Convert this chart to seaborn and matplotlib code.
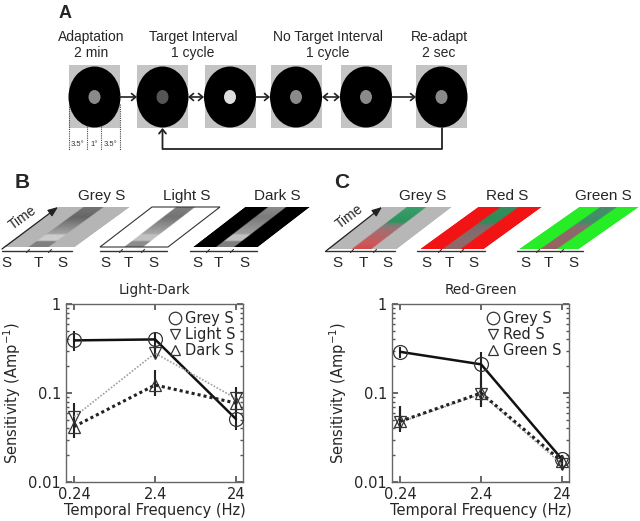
import numpy as np
import pandas as pd
import seaborn as sns
import matplotlib.pyplot as plt
from matplotlib.patches import Rectangle, Ellipse, Polygon
from matplotlib.lines import Line2D
from matplotlib.ticker import NullLocator, LogLocator
from matplotlib.transforms import Affine2D

# data
freqs = [0.24, 2.4, 24]
freq_labels = ['0.24', '2.4', '24']

# Light-Dark
ld_names = ['Grey S', 'Light S', 'Dark S']
ld_mean = [[0.39, 0.40, 0.051], [0.054, 0.28, 0.087], [0.042, 0.123, 0.077]]
ld_lo = [[0.30, 0.30, 0.038], [0.041, 0.25, 0.065], [0.031, 0.092, 0.060]]
ld_hi = [[0.50, 0.48, 0.069], [0.077, 0.32, 0.117], [0.054, 0.18, 0.090]]

# Red-Green
rg_names = ['Grey S', 'Red S', 'Green S']
rg_mean = [[0.29, 0.21, 0.018], [0.047, 0.097, 0.0158], [0.048, 0.100, 0.017]]
rg_lo = [[0.25, 0.15, 0.015], [0.036, 0.069, 0.0137], [0.037, 0.072, 0.0145]]
rg_hi = [[0.33, 0.29, 0.020], [0.070, 0.14, 0.019], [0.072, 0.15, 0.020]]

sns.set_theme(style='ticks')
plt.rcParams['font.family'] = ['DejaVu Sans']
narrow = ['Liberation Sans Narrow', 'Liberation Sans', 'DejaVu Sans']
arial = ['Liberation Sans', 'DejaVu Sans']

fig = plt.figure(figsize=(6.4, 5.21), dpi=100)
bg = fig.add_axes([0, 0, 1, 1])
bg.axis('off')

# ---------- panel A ----------
bg.text(65, 13, 'A', fontsize=13, fontweight='bold', ha='center', va='center', family=arial)
top_labels = [('Adaptation\n2 min', 91), ('Target Interval\n1 cycle', 193),
              ('No Target Interval\n1 cycle', 328), ('Re-adapt\n2 sec', 439)]
for txt, x in top_labels:
    bg.text(x, 45, txt, ha='center', va='center', fontsize=10, family=narrow, linespacing=1.25)

centers = [94.5, 162.5, 230, 296, 366, 441.5]
dots = ['#8a8a8a', '#555555', '#dedede', '#8a8a8a', '#8a8a8a', '#8a8a8a']
for cx, dc in zip(centers, dots):
    bg.add_patch(Rectangle((cx - 25.5, 65), 51, 63, color='#c4c4c4', lw=0))
    bg.add_patch(Ellipse((cx, 97), 52, 61, color='black', lw=0))
    bg.add_patch(Ellipse((cx, 97), 12, 14, color=dc, lw=0))

head = ',head_length=0.3,head_width=0.25'
arrows = [(120, 137, '->'), (188, 204, '<->'), (256, 270, '->'), (322, 340, '<->'), (392, 416, '->')]
for a, b, st in arrows:
    bg.annotate('', xy=(b, 97), xytext=(a, 97),
                arrowprops=dict(arrowstyle=st + head, lw=1.2, color='#222',
                                shrinkA=0, shrinkB=0, mutation_scale=10))
bg.plot([441.5, 441.5, 162.5], [128, 149, 149], color='#222', lw=1.3)
bg.annotate('', xy=(162.5, 128), xytext=(162.5, 149),
            arrowprops=dict(arrowstyle='->' + head, lw=1.3, color='#222',
                            shrinkA=0, shrinkB=0, mutation_scale=10))

for x, y0 in [(69, 104), (87, 126), (101, 126), (120, 104)]:
    bg.plot([x, x], [y0, 150], color='#444', lw=0.8, ls=(0, (1, 1)))
for x, t in [(78, '3.5°'), (94, '1°'), (110.5, '3.5°')]:
    bg.text(x, 144, t, ha='center', va='center', fontsize=5.5, family=arial, color='#333')


# ---------- schematic parallelograms ----------
def stripe_image(bg_rgb, knots_v, knots_rgb, u0=0.35, u1=0.63, nu=90, nv=60):
    u = np.linspace(0, 1, nu)
    v = np.linspace(0, 1, nv)
    img = np.ones((nv, nu, 4))
    img[:, :, :3] = np.array(bg_rgb)
    prof = np.stack([np.interp(v, knots_v, [c[i] for c in knots_rgb]) for i in range(3)], axis=1)
    mask = (u > u0) & (u < u1)
    img[:, mask, :3] = prof[:, None, :]
    return img


def para(x0, yb, w, s, h, img, edge=None):
    poly = Polygon([(x0, yb), (x0 + w, yb), (x0 + w + s, yb - h), (x0 + s, yb - h)], closed=True,
                   fill=False, ec=edge if edge else 'none', lw=0.8, zorder=3)
    bg.add_patch(poly)
    im = bg.imshow(img, origin='lower', extent=(0, 1, 0, 1), interpolation='bilinear', aspect='auto')
    im.set_transform(Affine2D.from_values(w, 0, s, -h, x0, yb) + bg.transData)
    im.set_clip_path(poly)


def base(xa, xb, ticks, labels):
    bg.plot([xa, xb], [251, 251], color='#333', lw=1)
    for t in ticks:
        bg.plot([t - 1.5, t + 1.5], [252.5, 249.5], color='#333', lw=0.8)
    for x, t in zip(labels, 'STS'):
        bg.text(x, 263, t, ha='center', va='center', fontsize=11, family=narrow)


def time_arrow(x0, yb, s, h, tx, ty):
    bg.annotate('', xy=(x0 + s, yb - h), xytext=(x0 - 1, yb + 2),
                arrowprops=dict(arrowstyle='-|>,head_width=0.2,head_length=0.5', lw=0.9,
                                color='#222', shrinkA=0, shrinkB=0), zorder=4)
    ang = np.degrees(np.arctan2(h, s))
    bg.text(tx, ty, 'Time', rotation=ang, ha='center', va='center',
            fontsize=10, family=arial, rotation_mode='anchor', zorder=4)


g = lambda x: (x, x, x)
vk = [0, 0.13, 0.16, 0.3, 0.33, 0.75, 1]
bg.text(22, 182, 'B', fontsize=15, fontweight='bold', ha='center', va='center', family=arial)
para(3, 247, 72, 55, 40, stripe_image(g(0.71), vk, [g(0.5), g(0.5), g(0.8), g(0.8), g(0.64), g(0.4), g(0.45)]))
para(100, 247, 68, 52, 40, stripe_image(g(1.0), vk, [g(0.55), g(0.55), g(0.76), g(0.76), g(0.66), g(0.45), g(0.5)]),
     edge='#333')
para(193, 247, 65, 52, 40, stripe_image(g(0.0), vk, [g(0.5), g(0.5), g(0.76), g(0.76), g(0.62), g(0.48), g(0.55)]))
for x, t in [(102, 'Grey S'), (187, 'Light S'), (277, 'Dark S')]:
    bg.text(x, 196, t, ha='center', va='center', fontsize=11, family=arial)
base(2, 72, [28, 50], [6, 38, 62])
base(100, 167, [121, 143], [105, 128, 153])
base(190, 257, [208, 232], [197, 218, 244])
time_arrow(3, 247, 55, 40, 23, 218)

ck = [0, 0.15, 0.5, 0.58, 0.65, 1]
bg.text(342, 182, 'C', fontsize=15, fontweight='bold', ha='center', va='center', family=arial)
para(327, 249, 70, 55, 42, stripe_image(g(0.72), ck, [(0.82, 0.3, 0.3), (0.8, 0.35, 0.35), (0.6, 0.45, 0.45),
                                                      (0.45, 0.5, 0.47), (0.18, 0.58, 0.36), (0.22, 0.62, 0.42)]))
para(420, 249, 64, 58, 42, stripe_image((0.95, 0.08, 0.08), ck, [(0.58, 0.4, 0.4), (0.55, 0.42, 0.42), (0.5, 0.42, 0.42),
                                                                 (0.4, 0.45, 0.42), (0.18, 0.55, 0.34), (0.2, 0.55, 0.36)]))
para(519, 249, 60, 60, 42, stripe_image((0.15, 0.93, 0.15), ck, [(0.6, 0.38, 0.38), (0.58, 0.4, 0.4), (0.55, 0.42, 0.42),
                                                                 (0.42, 0.48, 0.44), (0.25, 0.55, 0.4), (0.28, 0.56, 0.42)]))
for x, t in [(423, 'Grey S'), (507, 'Red S'), (603, 'Green S')]:
    bg.text(x, 196, t, ha='center', va='center', fontsize=11, family=arial)
base(325, 395, [352, 375], [337, 363, 387])
base(417, 485, [440, 462], [426, 449, 473])
base(517, 583, [538, 562], [525, 548, 573])
time_arrow(327, 249, 55, 42, 349, 217)

bg.set_xlim(0, 640)
bg.set_ylim(521, 0)

# ---------- sensitivity plots ----------
styles = [dict(color='#111111', lw=1.8, ls='-', marker='o', ms=10),
          dict(color='#a0a0a0', lw=1.2, ls=(0, (1, 1)), marker='v', ms=8),
          dict(color='#222222', lw=2.2, ls=(0, (1, 1)), marker='^', ms=8)]


def sens_plot(rect, title, names, mean, lo, hi):
    ax = fig.add_axes(rect)
    ax.set_xscale('log')
    ax.set_yscale('log')
    rows = []
    for n, m, l, h in zip(names, mean, lo, hi):
        for f, a, b, c in zip(freqs, m, l, h):
            rows.append(dict(series=n, freq=f, sens=a, lo=b, hi=c))
    df = pd.DataFrame(rows)
    handles = []
    for n, st in zip(names, styles):
        d = df[df.series == n]
        ax.vlines(d.freq, d.lo, d.hi, colors='#222', lw=1.5, zorder=2)
        sns.lineplot(data=d, x='freq', y='sens', ax=ax, color=st['color'], lw=st['lw'], linestyle=st['ls'],
                     marker=st['marker'], markersize=st['ms'], markerfacecolor='none',
                     markeredgecolor='#333', markeredgewidth=0.9, zorder=3)
        handles.append(Line2D([], [], ls='None', marker=st['marker'], ms=st['ms'] * 0.9, mfc='none',
                              mec='#333', mew=0.9, label=n))
    ax.set_xlim(0.19, 29.3)
    ax.set_ylim(0.01, 1)
    ax.set_xticks(freqs, freq_labels)
    ax.xaxis.set_minor_locator(NullLocator())
    ax.set_yticks([0.01, 0.1, 1], ['0.01', '0.1', '1'])
    ax.yaxis.set_minor_locator(LogLocator(subs=np.arange(2, 10)))
    ax.tick_params(which='both', direction='in', top=True, right=True, color='#555', labelsize=10.5)
    ax.tick_params(which='major', length=4)
    ax.tick_params(which='minor', length=2.5)
    for sp in ax.spines.values():
        sp.set_color('#666')
        sp.set_linewidth(1.0)
    ax.set_xlabel('Temporal Frequency (Hz)', fontsize=10.5, labelpad=1)
    ax.set_ylabel('Sensitivity (Amp$^{-1}$)', fontsize=10.5, labelpad=4)
    ax.set_title(title, fontsize=9.8, pad=7)
    ax.legend(handles=handles, loc='upper right', frameon=False, fontsize=10.5, handletextpad=0.1,
              labelspacing=0.05, borderaxespad=0.1, handlelength=1.2)
    return ax


sens_plot([66 / 640, 39 / 521, 177 / 640, 178 / 521], 'Light-Dark', ld_names, ld_mean, ld_lo, ld_hi)
sens_plot([392 / 640, 39 / 521, 177 / 640, 178 / 521], 'Red-Green', rg_names, rg_mean, rg_lo, rg_hi)

fig.savefig('out.png', dpi=100)
